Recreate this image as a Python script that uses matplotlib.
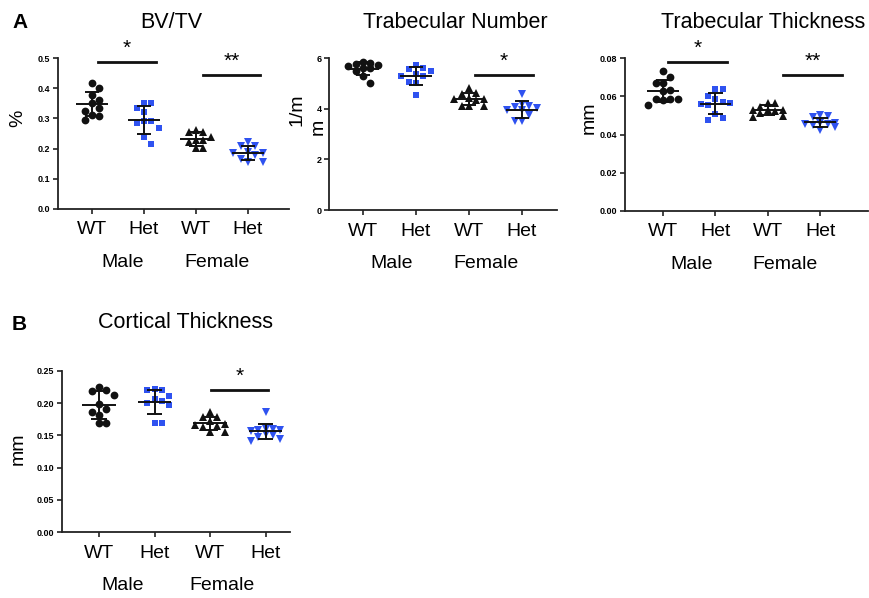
import numpy as np
import matplotlib
matplotlib.use("Agg")
import matplotlib.pyplot as plt

plt.rcParams['font.family'] = ['Liberation Sans', 'DejaVu Sans']

# DATA
groups = ["WT", "Het", "WT", "Het"]
sexes = ["Male", "Female"]

bvtv_male_wt = [0.416, 0.400, 0.377, 0.350, 0.362, 0.325, 0.335, 0.311, 0.296, 0.308]
bvtv_male_het = [0.333, 0.350, 0.350, 0.322, 0.292, 0.292, 0.284, 0.267, 0.239, 0.215]
bvtv_fem_wt = [0.256, 0.262, 0.256, 0.228, 0.223, 0.240, 0.228, 0.201, 0.201]
bvtv_fem_het = [0.223, 0.210, 0.207, 0.190, 0.184, 0.179, 0.185, 0.157, 0.157, 0.165]

tbn_male_wt = [5.79, 5.83, 5.76, 5.72, 5.69, 5.62, 5.59, 5.50, 5.29, 5.03]
tbn_male_het = [5.72, 5.49, 5.57, 5.62, 5.30, 5.36, 5.30, 5.00, 5.07, 4.54]
tbn_fem_wt = [4.80, 4.62, 4.58, 4.36, 4.38, 4.42, 4.40, 4.10, 4.12, 4.12]
tbn_fem_het = [4.57, 4.17, 4.04, 4.08, 4.12, 3.95, 3.75, 3.51, 3.51, 3.95]

tbth_male_wt = [0.0734, 0.0702, 0.0668, 0.0668, 0.0633, 0.0625, 0.0585, 0.0585, 0.0585, 0.0580, 0.0555]
tbth_male_het = [0.0636, 0.0636, 0.0601, 0.0584, 0.0554, 0.0560, 0.0563, 0.0572, 0.0507, 0.0476, 0.0485]
tbth_fem_wt = [0.0563, 0.0566, 0.0545, 0.0530, 0.0528, 0.0530, 0.0525, 0.0492, 0.0495, 0.0510]
tbth_fem_het = [0.0495, 0.0500, 0.0490, 0.0462, 0.0458, 0.0455, 0.0456, 0.0452, 0.0440, 0.0424]

ctth_male_wt = [0.2205, 0.2247, 0.2127, 0.2194, 0.1988, 0.1905, 0.1868, 0.1817, 0.1688, 0.1688]
ctth_male_het = [0.2205, 0.2216, 0.2205, 0.2112, 0.2039, 0.2060, 0.2008, 0.1972, 0.1698, 0.1698]
ctth_fem_wt = [0.186, 0.178, 0.178, 0.172, 0.168, 0.166, 0.165, 0.163, 0.155, 0.155]
ctth_fem_het = [0.187, 0.160, 0.158, 0.157, 0.158, 0.160, 0.152, 0.150, 0.148, 0.145, 0.142]

# significance bars: (x start, x end, height, label)
bvtv_sig = [(0.12, 1.23, 0.488, "*"), (2.13, 3.23, 0.443, "**")]
tbn_sig = [(2.11, 3.21, 5.32, "*")]
tbth_sig = [(0.10, 1.22, 0.0781, "*"), (2.29, 3.42, 0.0710, "**")]
ctth_sig = [(2.01, 3.05, 0.220, "*")]

BLACK = "#111111"
BLUE = "#2f52f0"
W, H = 870, 598

fig = plt.figure(figsize=(8.7, 5.98), dpi=100)


def px_axes(left, top, right, bottom):
    return fig.add_axes([left / W, 1 - bottom / H, (right - left) / W, (bottom - top) / H])


def swarm(vals, sx, sy, dx=7.4, dy=8.0):
    # column scatter: points too close in value get pushed sideways
    vals = np.asarray(vals, float)
    placed = []
    res = np.zeros(len(vals))
    slots = [0.0, dx, -dx, 2 * dx, -2 * dx]
    for i in np.argsort(vals)[::-1]:
        y = vals[i] * sy
        best, best_d = 0.0, -1
        for x in slots:
            dmin = min([max(abs(x - px) / dx, abs(y - py) / dy) for px, py in placed] + [9.0])
            if dmin >= 1.0:
                best = x
                break
            if dmin > best_d:
                best, best_d = x, dmin
        placed.append((best, y))
        res[i] = best / sx
    return res


def panel(box, series, ymax, yticks, yfmt, sig, x0_px, step_px, sex_x, title, title_xy):
    left, top, right, bottom = box
    ax = px_axes(left, top, right, bottom)
    xlo = -x0_px / step_px
    xhi = xlo + (right - left) / step_px
    ax.set_xlim(xlo, xhi)
    ax.set_ylim(0, ymax)
    sx = step_px
    sy = (bottom - top) / ymax
    markers = ["o", "s", "^", "v"]
    colors = [BLACK, BLUE, BLACK, BLUE]
    sizes = [5.6, 5.0, 6.0, 6.0]
    for i, vals in enumerate(series):
        offs = swarm(vals, sx, sy)
        ax.plot(i + offs, vals, linestyle="none", marker=markers[i], color=colors[i],
                markersize=sizes[i], markeredgewidth=0, zorder=2)
        m = np.mean(vals)
        s = np.std(vals, ddof=1)
        ax.hlines(m, i - 0.3, i + 0.3, color=BLACK, lw=1.4, zorder=3)
        ax.hlines([m - s, m + s], i - 0.14, i + 0.14, color=BLACK, lw=1.4, zorder=3)
        ax.vlines(i, m - s, m + s, color=BLACK, lw=1.4, zorder=3)
    for xa, xb, yv, lab in sig:
        ax.plot([xa, xb], [yv, yv], color=BLACK, lw=2.0, clip_on=False)
        ax.annotate(lab, ((xa + xb) / 2, yv), xytext=(0, 3), textcoords="offset points",
                    ha="center", va="bottom", fontsize=15, annotation_clip=False)
    for sp in ["top", "right"]:
        ax.spines[sp].set_visible(False)
    for sp in ["left", "bottom"]:
        ax.spines[sp].set_linewidth(1.3)
        ax.spines[sp].set_color("#222222")
    ax.set_xticks(range(4))
    ax.set_xticklabels(groups, fontsize=14)
    ax.set_yticks(yticks)
    ax.set_yticklabels([yfmt.format(v) for v in yticks], fontsize=6.5, fontweight="bold")
    ax.tick_params(axis="both", length=3.5, width=1.2, color="#222222")
    ax.tick_params(axis="x", pad=5.5)
    ax.tick_params(axis="y", pad=2)
    for xs, lab in zip(sex_x, sexes):
        ax.annotate(lab, (xs, 0), xycoords=("data", "axes fraction"), xytext=(0, -38.5),
                    textcoords="offset points", ha="center", va="center", fontsize=14)
    fig.text(title_xy[0] / W, 1 - title_xy[1] / H, title, ha="center", va="center", fontsize=15.5)
    return ax


def ylab(x, y, text):
    fig.text(x / W, 1 - y / H, text, rotation=90, ha="center", va="center", fontsize=14)


panel((58, 58, 289, 209), [bvtv_male_wt, bvtv_male_het, bvtv_fem_wt, bvtv_fem_het],
      0.5, np.arange(0, 0.51, 0.1), "{:.1f}", bvtv_sig, 34, 52, (0.58, 2.4),
      "BV/TV", (171, 22))
panel((329, 58, 557, 210), [tbn_male_wt, tbn_male_het, tbn_fem_wt, tbn_fem_het],
      6, [0, 2, 4, 6], "{:d}", tbn_sig, 34, 53, (0.54, 2.32),
      "Trabecular Number", (455, 22))
panel((625, 58, 868, 211), [tbth_male_wt, tbth_male_het, tbth_fem_wt, tbth_fem_het],
      0.08, np.arange(0, 0.081, 0.02), "{:.2f}", tbth_sig, 38, 52.4, (0.55, 2.32),
      "Trabecular Thickness", (763, 22))
panel((62, 371, 290, 532), [ctth_male_wt, ctth_male_het, ctth_fem_wt, ctth_fem_het],
      0.25, np.arange(0, 0.251, 0.05), "{:.2f}", ctth_sig, 37, 55.5, (0.43, 2.21),
      "Cortical Thickness", (186, 323))

ylab(18, 118, "%")
ylab(297, 110, "1/m")
ylab(318, 127, "m")
ylab(589, 118, "mm")
ylab(18, 449, "mm")

fig.text(12 / W, 1 - 22 / H, "A", fontsize=15, fontweight="bold", va="center", ha="left")
fig.text(12 / W, 1 - 325 / H, "B", fontsize=15, fontweight="bold", va="center", ha="left")

fig.savefig("out.png", dpi=100)
